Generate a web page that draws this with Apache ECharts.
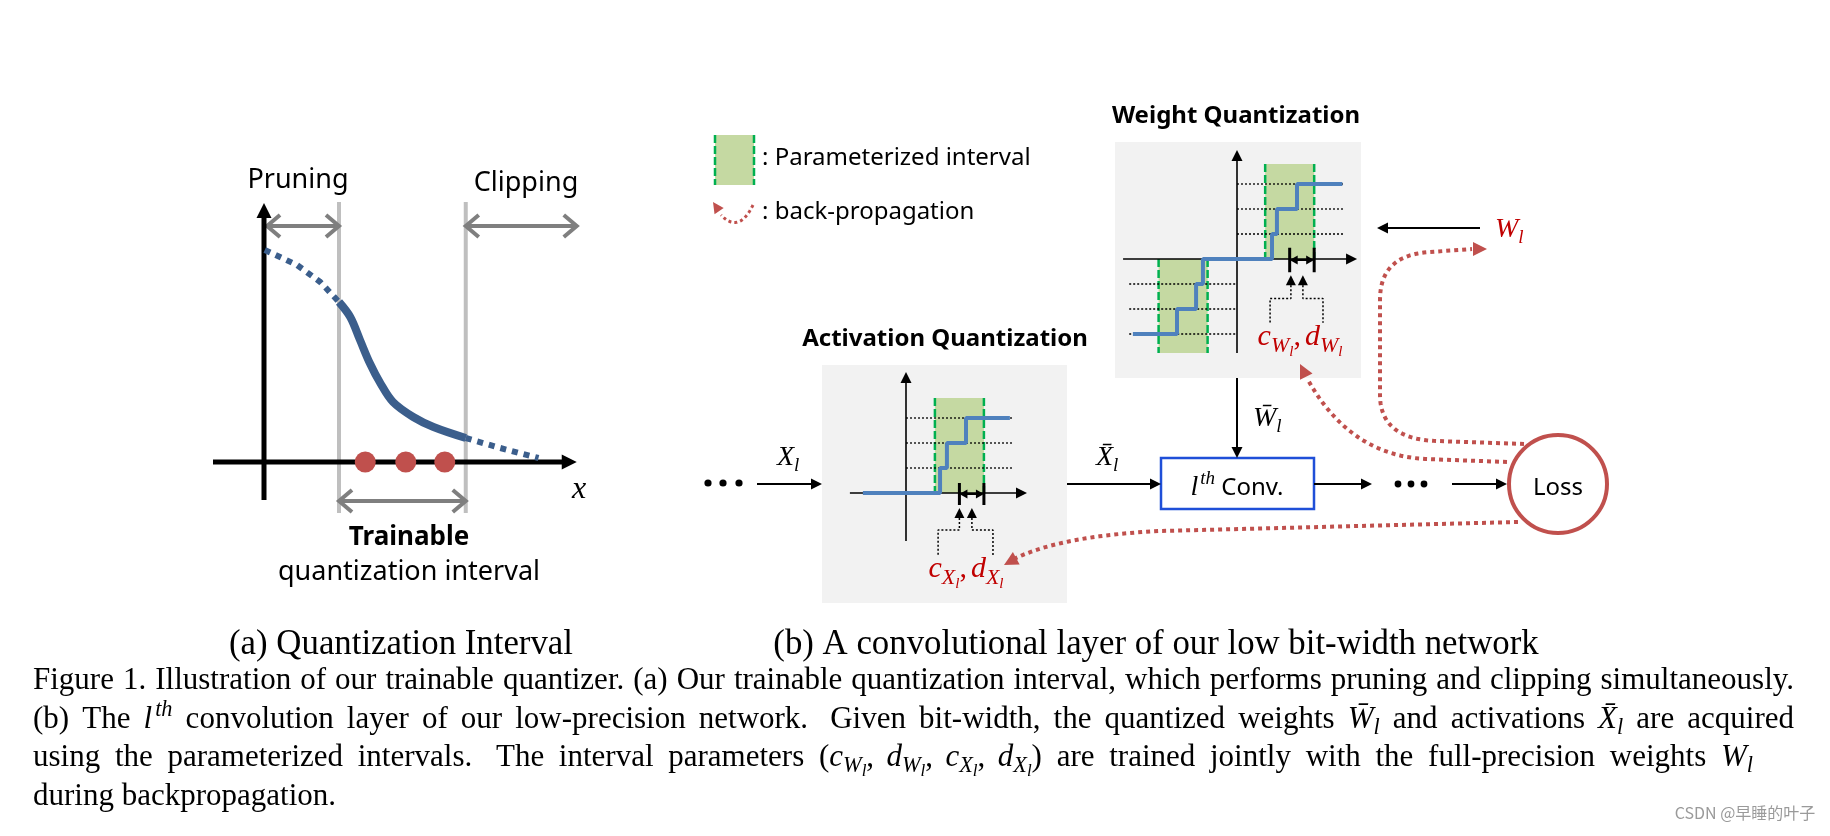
<!DOCTYPE html>
<html><head><meta charset="utf-8">
<script src="https://cdn.jsdelivr.net/npm/echarts@6/dist/echarts.min.js"></script>
<style>html,body{margin:0;padding:0;background:#fff}#c{width:1830px;height:836px}</style>
</head><body><div id="c"></div>
<script>
// ================= DATA =================
// Panel (a): quantizer transfer curve (x in interval units, y in output units)
const pruneX = 1.0;
const clipX = 2.69;
const curveHead = [[0.01,2.12],[0.44,1.97],[0.75,1.80],[1.0,1.60]];
const curveBody = [[1.0,1.60],[1.15,1.45],[1.28,1.22],[1.41,0.99],[1.55,0.79],[1.72,0.60],[1.99,0.45],[2.26,0.35],[2.69,0.24]];
const curveTail = [[2.69,0.24],[3.15,0.14],[3.66,0.04]];
const quantPoints = [1.35, 1.89, 2.41];

// Weight quantizer (symmetric staircase)
const wLevels = [-3,-2,-1,1,2,3];
const wStair = [[-4.25,-3],[-2.45,-3],[-2.45,-2],[-1.67,-2],[-1.67,-1],[-1.39,-1],[-1.39,0],[1.43,0],[1.43,1],[1.63,1],[1.63,2],[2.45,2],[2.45,3],[4.3,3]];
const wIntervals = [[-3.2,-1.2],[1.15,3.15]];
const wC = 2.15, wD = 1.0;

// Activation quantizer (one-sided staircase)
const xLevels = [1,2,3];
const xStair = [[-1.76,0],[1.39,0],[1.39,1],[1.67,1],[1.67,2],[2.45,2],[2.45,3],[4.24,3]];
const xInterval = [1.18, 3.18];
const xC = 2.18, xD = 1.0;

// Labels
const labelsA = ['Pruning','Clipping','Trainable','quantization interval'];
const legendLabels = [': Parameterized interval', ': back-propagation'];
const titles = ['Weight Quantization','Activation Quantization'];
const subCaptions = ['(a) Quantization Interval','(b) A convolutional layer of our low bit-width network'];
const watermark = 'CSDN @早睡的叶子';

// ================= STYLE =================
const SANS = '"Noto Sans", "Open Sans", sans-serif';
const SERIF = '"Liberation Serif", "DejaVu Serif", serif';
const RED = '#c0504d', REDTXT = '#c00000', CURVE = '#3b5e8c', STEP = '#4f81bd';
const GREENF = '#c5d9a2', GREENL = '#00b050', GRAYBOX = '#f2f2f2';

// ================= HELPERS =================
function gridRect(ox, oy, sx, sy, xr, yr){
  return {left: ox + xr[0]*sx, top: oy - yr[1]*sy, width: (xr[1]-xr[0])*sx, height: (yr[1]-yr[0])*sy, containLabel:false};
}
function arrowShapes(a, b, st){
  const dx=b[0]-a[0], dy=b[1]-a[1], len=Math.hypot(dx,dy)||1, ux=dx/len, uy=dy/len;
  let s=[a[0],a[1]], e=[b[0],b[1]];
  const out=[]; const L=st.L||10, W=st.W||5;
  const headAt=(tip, d)=>{
    const bx=tip[0]-d[0]*L, by=tip[1]-d[1]*L, px=-d[1], py=d[0];
    if(st.headType==='chev') return {type:'polyline', z:st.z||50, shape:{points:[[bx+px*W,by+py*W],tip,[bx-px*W,by-py*W]]}, style:{stroke:st.color, lineWidth:st.width, fill:null, lineJoin:'miter'}};
    return {type:'polygon', z:st.z||50, shape:{points:[tip,[bx+px*W,by+py*W],[bx-px*W,by-py*W]]}, style:{fill:st.hc||st.color, stroke:null}};
  };
  const head=st.head||'none';
  const sh = st.headType==='chev' ? st.width*0.6 : L*0.8;
  if(head==='end'||head==='both'){ out.push(headAt(b,[ux,uy])); e=[e[0]-ux*sh, e[1]-uy*sh]; }
  if(head==='both'){ out.push(headAt(a,[-ux,-uy])); s=[s[0]+ux*sh, s[1]+uy*sh]; }
  out.unshift({type:'line', z:st.z||50, shape:{x1:s[0],y1:s[1],x2:e[0],y2:e[1]}, style:{stroke:st.color, lineWidth:st.width, lineDash:st.dash||null, lineCap:'butt'}});
  return out;
}
function segSeries(gi, items, st){
  return {type:'custom', coordinateSystem:'cartesian2d', xAxisIndex:gi, yAxisIndex:gi, z:st.sz||3, silent:true, animation:false,
    data: items,
    renderItem: function(p, api){
      const a=api.coord([api.value(0), api.value(1)]), b=api.coord([api.value(2), api.value(3)]);
      return {type:'group', children: arrowShapes(a,b,st)};
    }};
}
function intervalSeries(gi, items){
  return {type:'custom', coordinateSystem:'cartesian2d', xAxisIndex:gi, yAxisIndex:gi, z:2, silent:true, animation:false,
    data: items,
    renderItem: function(p, api){
      const a=api.coord([api.value(0), api.value(3)]), b=api.coord([api.value(1), api.value(2)]);
      const ls={stroke:GREENL, lineWidth:2.5, lineDash:[8,3]};
      return {type:'group', children:[
        {type:'rect', shape:{x:a[0], y:a[1], width:b[0]-a[0], height:b[1]-a[1]}, style:{fill:GREENF}},
        {type:'line', shape:{x1:a[0],y1:a[1],x2:a[0],y2:b[1]}, style:ls},
        {type:'line', shape:{x1:b[0],y1:a[1],x2:b[0],y2:b[1]}, style:ls}
      ]};
    }};
}
function lineSeries(gi, data, ls, extra){
  return Object.assign({type:'line', xAxisIndex:gi, yAxisIndex:gi, data:data, symbol:'none', showSymbol:false, silent:true, animation:false, z:4, lineStyle:ls}, extra||{});
}
// sample a simple path (M/L/Q/C commands, absolute) into polyline points
function samplePath(cmds){
  const pts=[]; let cur=null;
  for(const c of cmds){
    if(c[0]==='M'){ cur=[c[1],c[2]]; pts.push(cur); }
    else if(c[0]==='L'){ cur=[c[1],c[2]]; pts.push(cur); }
    else if(c[0]==='Q'){ const p0=cur; for(let i=1;i<=24;i++){ const t=i/24, m=1-t; pts.push([m*m*p0[0]+2*m*t*c[1]+t*t*c[3], m*m*p0[1]+2*m*t*c[2]+t*t*c[4]]); } cur=[c[3],c[4]]; }
    else if(c[0]==='C'){ const p0=cur; for(let i=1;i<=30;i++){ const t=i/30, m=1-t; pts.push([m*m*m*p0[0]+3*m*m*t*c[1]+3*m*t*t*c[3]+t*t*t*c[5], m*m*m*p0[1]+3*m*m*t*c[2]+3*m*t*t*c[4]+t*t*t*c[6]]); } cur=[c[5],c[6]]; }
  }
  return pts;
}

// text measurement
const mctx = document.createElement('canvas').getContext('2d');
function fontStr(s){ return (s.it?'italic ':'') + (s.b?'bold ':'') + s.size + 'px ' + s.fam; }
function midOff(font){ mctx.font=font; mctx.textBaseline='alphabetic'; const a=mctx.measureText('H').actualBoundingBoxAscent; mctx.textBaseline='middle'; const b=mctx.measureText('H').actualBoundingBoxAscent; mctx.textBaseline='alphabetic'; return a-b; }
function segW(s){ mctx.font=fontStr(s); return mctx.measureText(s.t).width + (s.kern||0); }
function wordsW(segs){ return segs.reduce((a,s)=>a+segW(s),0); }
function placeSegs(segs, x, base, fill, out){
  let cx=x;
  for(const s of segs){
    const f=fontStr(s);
    out.push({type:'text', x:cx + (s.dx||0), y: base + (s.dy||0) - midOff(f), z:100, silent:true,
      style:{text:s.t, font:f, fill:s.fill||fill, textAlign:'left', textVerticalAlign:'middle'}});
    cx += segW(s);
  }
  return cx;
}
function textLine(segs, x, base, align, fill, out){
  const w=wordsW(segs); const x0 = align==='center' ? x-w/2 : (align==='right' ? x-w : x);
  placeSegs(segs, x0, base, fill, out);
}
function justify(words, x0, x1, base, out){
  const ws=words.map(wordsW); const tot=ws.reduce((a,b)=>a+b,0); const gap=(x1-x0-tot)/(words.length-1);
  let cx=x0; words.forEach((w,i)=>{ placeSegs(w,cx,base,'#000',out); cx+=ws[i]+gap; });
}
function leftWords(words, x0, base, gap, out){
  let cx=x0; words.forEach(w=>{ placeSegs(w,cx,base,'#000',out); cx+=wordsW(w)+gap; });
}

// ================= GRIDS =================
const GA = {ox:264, oy:462, sx:75, sy:100, xr:[-0.8,4.4], yr:[-0.6,2.7]};
const GW = {ox:1237, oy:259, sx:24.5, sy:25, xr:[-4.8,5.0], yr:[-3.9,4.5]};
const GX = {ox:906, oy:493, sx:24.5, sy:25, xr:[-2.4,5.0], yr:[-2.6,4.9]};
const GS = [GA, GW, GX];
const grids = GS.map(g=>gridRect(g.ox,g.oy,g.sx,g.sy,g.xr,g.yr));
const xAxes = GS.map((g,i)=>({type:'value', gridIndex:i, min:g.xr[0], max:g.xr[1], show:false}));
const yAxes = GS.map((g,i)=>({type:'value', gridIndex:i, min:g.yr[0], max:g.yr[1], show:false}));

// ================= SERIES =================
const series = [];
// ---- Panel (a)
series.push(segSeries(0, [[pruneX,-0.51,pruneX,2.6],[clipX,-0.51,clipX,2.6]], {color:'#bfbfbf', width:4, sz:1}));
series.push(segSeries(0, [[0.04,2.36,pruneX,2.36],[clipX,2.36,4.17,2.36],[pruneX,-0.39,clipX,-0.39]], {color:'#7f7f7f', width:4, head:'both', headType:'chev', L:13, W:11, sz:2}));
series.push(segSeries(0, [[-0.68,0,4.17,0],[0,-0.38,0,2.59]], {color:'#000', width:5, head:'end', L:15, W:7.5, sz:3}));
series.push(lineSeries(0, curveHead, {color:CURVE, width:6, type:[6,6], cap:'butt'}));
series.push(lineSeries(0, curveBody, {color:CURVE, width:8, cap:'butt'}, {smooth:0.35}));
series.push(lineSeries(0, curveTail, {color:CURVE, width:6, type:[6,6], cap:'butt'}));
series.push({type:'scatter', xAxisIndex:0, yAxisIndex:0, data: quantPoints.map(x=>[x,0]), symbolSize:21, itemStyle:{color:RED, opacity:1}, silent:true, animation:false, z:6});

// ---- Weight quantization (grid 1)
series.push(intervalSeries(1, [[wIntervals[0][0], wIntervals[0][1], -3.76, 0],[wIntervals[1][0], wIntervals[1][1], 0, 3.8]]));
series.push(segSeries(1, wLevels.map(v=> v>0 ? [0,v,4.33,v] : [-4.4,v,0,v]), {color:'#000', width:1.3, dash:[2,2], sz:3}));
series.push(segSeries(1, [[-4.65,0,4.9,0],[0,-3.76,0,4.36]], {color:'#000', width:1.6, head:'end', L:11, W:5.5, sz:3}));
series.push(lineSeries(1, wStair, {color:STEP, width:4}));
series.push(segSeries(1, [[wC,0.45,wC,-0.53],[wC+wD,0.45,wC+wD,-0.53]], {color:'#000', width:3, sz:5}));
series.push(segSeries(1, [[wC,-0.04,wC+wD,-0.04]], {color:'#000', width:2, head:'both', L:8, W:4.5, sz:5}));
series.push(segSeries(1, [[wC+0.05,-1.05,wC+0.05,-0.65],[wC+wD*0.54,-1.05,wC+wD*0.54,-0.65]], {color:'#000', width:1.5, head:'end', L:10, W:5, sz:5}));
series.push(lineSeries(1, [[wC+0.05,-1.05],[wC+0.05,-1.58],[1.35,-1.58],[1.35,-2.55]], {color:'#000', width:1.5, type:[2,2]}));
series.push(lineSeries(1, [[wC+wD*0.54,-1.05],[wC+wD*0.54,-1.58],[3.51,-1.58],[3.51,-2.55]], {color:'#000', width:1.5, type:[2,2]}));

// ---- Activation quantization (grid 2)
series.push(intervalSeries(2, [[xInterval[0], xInterval[1], 0, 3.8]]));
series.push(segSeries(2, xLevels.map(v=>[0,v,4.33,v]), {color:'#000', width:1.3, dash:[2,2], sz:3}));
series.push(segSeries(2, [[-2.29,0,4.94,0],[0,-1.92,0,4.84]], {color:'#000', width:1.6, head:'end', L:11, W:5.5, sz:3}));
series.push(lineSeries(2, xStair, {color:STEP, width:4}));
series.push(segSeries(2, [[xC,0.4,xC,-0.48],[xC+xD,0.4,xC+xD,-0.48]], {color:'#000', width:3, sz:5}));
series.push(segSeries(2, [[xC,-0.04,xC+xD,-0.04]], {color:'#000', width:2, head:'both', L:8, W:4.5, sz:5}));
series.push(segSeries(2, [[xC,-1.0,xC,-0.6],[xC+xD*0.51,-1.0,xC+xD*0.51,-0.6]], {color:'#000', width:1.5, head:'end', L:10, W:5, sz:5}));
series.push(lineSeries(2, [[xC,-1.0],[xC,-1.48],[1.31,-1.48],[1.31,-2.48]], {color:'#000', width:1.5, type:[2,2]}));
series.push(lineSeries(2, [[xC+xD*0.51,-1.0],[xC+xD*0.51,-1.48],[3.55,-1.48],[3.55,-2.48]], {color:'#000', width:1.5, type:[2,2]}));

// ================= GRAPHICS (layout) =================
const G = [];
// gray boxes
G.push({type:'rect', z:-5, shape:{x:1115,y:142,width:246,height:236}, style:{fill:GRAYBOX}});
G.push({type:'rect', z:-5, shape:{x:822,y:365,width:245,height:238}, style:{fill:GRAYBOX}});
// legend
G.push({type:'rect', z:10, shape:{x:715,y:135,width:39,height:50}, style:{fill:GREENF}});
G.push({type:'line', z:11, shape:{x1:715,y1:135,x2:715,y2:185}, style:{stroke:GREENL,lineWidth:2.5,lineDash:[8,3]}});
G.push({type:'line', z:11, shape:{x1:754,y1:135,x2:754,y2:185}, style:{stroke:GREENL,lineWidth:2.5,lineDash:[8,3]}});
function dotted(cmds, w, dash){ G.push({type:'polyline', z:12, shape:{points:samplePath(cmds)}, style:{stroke:RED, lineWidth:w, lineDash:dash, fill:null}}); }
function redHead(from, tip, L, W){ G.push(...arrowShapes(from, tip, {color:RED, width:0, head:'end', L:L, W:W, z:12}).slice(1)); }
dotted([['M',753,205],['Q',739,234,721,215]], 3, [3,3]);
redHead([723,217],[713,202],11,5.5);

function flowArrow(a,b,extra){ G.push(...arrowShapes(a,b,Object.assign({color:'#000', width:2, head:'end', L:11, W:5.5, z:20}, extra||{}))); }
flowArrow([757,484],[822,484]);
flowArrow([1067,484],[1161,484]);
flowArrow([1237,378],[1237,458]);
flowArrow([1314,484],[1372,484]);
flowArrow([1452,484],[1507,484]);
flowArrow([1480,228],[1377,228]);
// conv box and loss circle
G.push({type:'rect', z:15, shape:{x:1161,y:458,width:153,height:51}, style:{fill:'#fff', stroke:'#1f4fd8', lineWidth:2.5}});
G.push({type:'circle', z:15, shape:{cx:1558,cy:484,r:49}, style:{fill:'#fff', stroke:RED, lineWidth:4}});
// ellipsis dots
[708,723,739].forEach(x=>G.push({type:'circle', z:20, shape:{cx:x,cy:483,r:3.6}, style:{fill:'#000'}}));
[1398,1411,1424].forEach(x=>G.push({type:'circle', z:20, shape:{cx:x,cy:484,r:3.4}, style:{fill:'#000'}}));
// back-propagation paths
dotted([['M',1518,522],['L',1160,531],['Q',1060,536,1014,559]], 4, [4,4]);
redHead([1024,554],[1004,565],14,7);
dotted([['M',1507,462],['L',1425,459],['Q',1350,455,1308,380]], 4, [4,4]);
redHead([1310,384],[1300,364],14,7);
dotted([['M',1524,444],['L',1437,441],['C',1400,440,1380,425,1380,395],['L',1380,300],['C',1380,268,1398,254,1430,252],['L',1472,249]], 4, [4,4]);
redHead([1470,249],[1487,249],14,7);

// ---- Texts
const T = [];
const sans = (t,size,b)=>({t, size, fam:SANS, b:!!b});
const it = (t,size,dy,fill,kern)=>({t, size, fam:SERIF, it:true, dy:dy||0, fill, kern:kern||0});
const rm = (t,size,dy,fill,kern)=>({t, size, fam:SERIF, dy:dy||0, fill, kern:kern||0});
textLine([sans(labelsA[0],27)], 298, 188, 'center', '#000', T);
textLine([sans(labelsA[1],27)], 526, 191, 'center', '#000', T);
textLine([sans(labelsA[2],26,true)], 409, 545, 'center', '#000', T);
textLine([sans(labelsA[3],27)], 409, 580, 'center', '#000', T);
textLine([it('x',32)], 572, 498, 'left', '#000', T);
textLine([sans(legendLabels[0],24)], 762, 165, 'left', '#000', T);
textLine([sans(legendLabels[1],24)], 762, 219, 'left', '#000', T);
textLine([sans(titles[0],24,true)], 1236, 123, 'center', '#000', T);
textLine([sans(titles[1],24,true)], 945, 346, 'center', '#000', T);
textLine([it('X',28), it('l',19,6)], 777, 465, 'left', '#000', T);
textLine([it('X\u0304',28), it('l',19,6)], 1096, 465, 'left', '#000', T);
textLine([it('W\u0304',28), it('l',19,6)], 1253, 426, 'left', '#000', T);
textLine([it('W',28,0,REDTXT), it('l',19,6,REDTXT)], 1495, 237, 'left', '#000', T);
textLine([it('l',28,0,null,2), it('th',19,-11), sans(' Conv.',24)], 1237, 495, 'center', '#000', T);
textLine([sans('Loss',24)], 1558, 495, 'center', '#000', T);
const cLab = (V)=>[it('c',30,0,REDTXT), it(V,22,7,REDTXT), it('l',15,11,REDTXT), rm(',',30,0,REDTXT,4), it('d',30,0,REDTXT), it(V,22,7,REDTXT), it('l',15,11,REDTXT)];
textLine(cLab('W'), 1300, 345, 'center', '#000', T);
textLine(cLab('X'), 966, 577, 'center', '#000', T);

// ---- Captions
const SUB = 34.8, CAP = 31;
textLine([rm(subCaptions[0],SUB)], 401, 654, 'center', '#000', T);
textLine([rm(subCaptions[1],SUB)], 1156, 654, 'center', '#000', T);
const wd = (str)=>str.split(' ').map(t=>[rm(t,CAP)]);
const sentenceEnd = (words, word)=>{ words.forEach(w=>{ if(w[0].t===word) w[0].kern = 9; }); return words; };
const L1 = wd('Figure 1. Illustration of our trainable quantizer. (a) Our trainable quantization interval, which performs pruning and clipping simultaneously.');
const L2 = [].concat(wd('(b) The'), [[it('l',CAP,0,null,3), it('th',CAP*0.72,-12)]], sentenceEnd(wd('convolution layer of our low-precision network. Given bit-width, the quantized weights'),'network.'),
  [[it('W\u0304',CAP), it('l',CAP*0.72,6)]], wd('and activations'), [[it('X\u0304',CAP), it('l',CAP*0.72,6)]], wd('are acquired'));
const sub2 = (a,b)=>[it(a,CAP), it(b,CAP*0.72,6), it('l',CAP*0.55,10)];
const comma = ()=>rm(',',CAP,0,null,CAP*0.4);
const L3 = [].concat(sentenceEnd(wd('using the parameterized intervals. The interval parameters'),'intervals.'),
  [[rm('(',CAP)].concat(sub2('c','W'), [comma()], sub2('d','W'), [comma()], sub2('c','X'), [comma()], sub2('d','X'), [rm(')',CAP)])],
  wd('are trained jointly with the full-precision weights'), [[it('W',CAP), it('l',CAP*0.72,6)]]);
const L4 = wd('during backpropagation.');
justify(L1, 33, 1794, 689, T);
justify(L2, 33, 1794, 728, T);
justify(L3, 33, 1753, 766, T);
leftWords(L4, 33, 805, CAP*0.25, T);
textLine([{t:watermark, size:16, fam:'"Noto Sans CJK SC", "Noto Sans", sans-serif'}], 1745, 819, 'center', '#9a9a9a', T);

// ================= CHART =================
const chart = echarts.init(document.getElementById('c'), null, {renderer:'canvas'});
chart.setOption({
  animation:false,
  backgroundColor:'#fff',
  grid: grids, xAxis: xAxes, yAxis: yAxes,
  series: series,
  graphic: {elements: G.concat(T)}
});
</script></body></html>
